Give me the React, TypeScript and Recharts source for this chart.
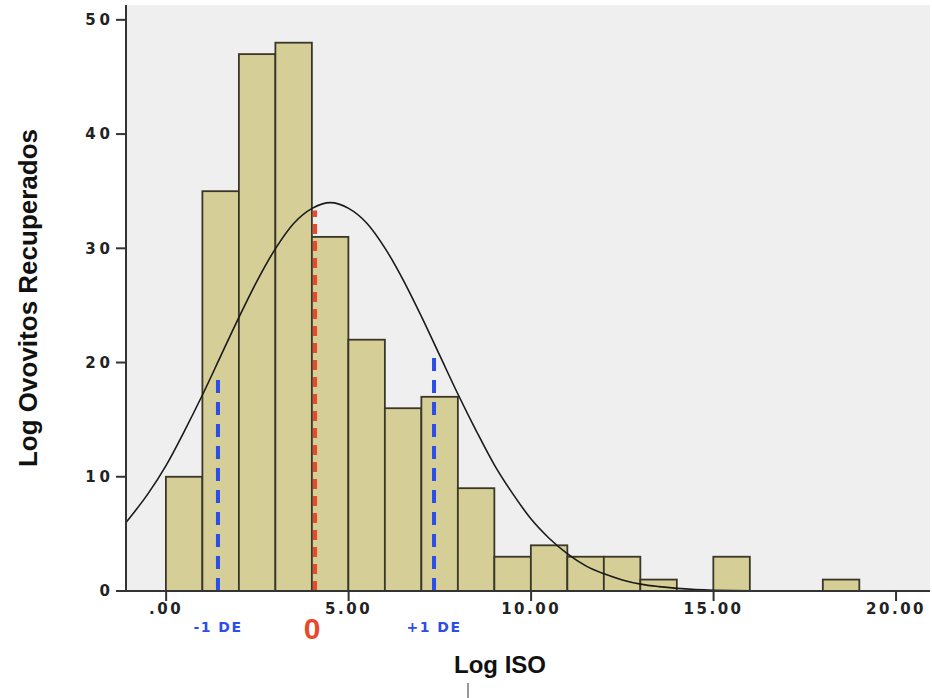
import React from "react";
import {
  ComposedChart,
  Bar,
  Line,
  XAxis,
  YAxis,
  CartesianGrid,
  ReferenceLine,
  ReferenceDot,
} from "recharts";

// histogram bins (width 1.0), value = bin centre
const binCenters = [0.5, 1.5, 2.5, 3.5, 4.5, 5.5, 6.5, 7.5, 8.5, 9.5, 10.5, 11.5, 12.5, 13.5, 14.5, 15.5, 16.5, 17.5, 18.5];
const binCounts = [10, 35, 47, 48, 31, 22, 16, 17, 9, 3, 4, 3, 3, 1, 0, 3, 0, 0, 1];

// normal curve
const curveX = [-1.1, -0.5, 0, 0.5, 1, 1.5, 2, 2.5, 3, 3.5, 4, 4.5, 5, 5.5, 6, 6.5, 7, 7.5, 8, 8.5, 9, 9.5, 10, 10.5, 11, 11.5, 12, 12.5, 13, 13.5, 14, 14.5, 15, 15.5, 16, 17, 18, 19, 20, 20.9];
const curveY = [6.0, 8.5, 11.0, 14.0, 17.2, 20.6, 24.0, 27.2, 30.0, 32.2, 33.5, 34.0, 33.5, 32.2, 30.0, 27.2, 24.0, 20.6, 17.2, 14.0, 11.0, 8.5, 6.3, 4.6, 3.25, 2.2, 1.5, 0.97, 0.6, 0.38, 0.23, 0.13, 0.07, 0.04, 0.02, 0, 0, 0, 0, 0];

const xTicks = [0, 5, 10, 15, 20];
const yTicks = [0, 10, 20, 30, 40, 50];

// mean and +-1 SD markers
const markerX = [1.42, 4.08, 7.34];
const markerTop = [18.6, 33.3, 21.1];
const markerText = ["-1 DE", "0", "+1 DE"];
const markerColor = ["#2b4ee6", "#e8482c", "#2b4ee6"];

const bars = binCenters.map((x, i) => ({ x, count: binCounts[i] }));
const curve = curveX.map((x, i) => ({ x, y: curveY[i] }));

const W = 932;
const H = 698;
const M = { top: 5, right: 2, left: 0, bottom: 0 };
const Y_W = 126;
const X_DOMAIN: [number, number] = [-1.1, 20.93];
const BIN_WIDTH = 1;
// one bin in pixels on the x scale
const barPx = ((W - M.left - M.right - Y_W) / (X_DOMAIN[1] - X_DOMAIN[0])) * BIN_WIDTH;

const fmtX = (v: number) => (v === 0 ? ".00" : v.toFixed(2));

const tickFont = {
  fontFamily: "DejaVu Sans",
  fontWeight: 700,
  fontSize: 15,
  letterSpacing: 2.5,
  fill: "#222",
};

// histogram bar: full bin width around the centre the scale gives
const BinRect = (props: any) => {
  const { x, y, width, height } = props;
  if (!height || height <= 0) return null;
  const cx = x + width / 2;
  return (
    <rect
      x={cx - barPx / 2}
      y={y}
      width={barPx}
      height={height}
      fill="#d5ce96"
      stroke="#3a3628"
      strokeWidth={1.8}
    />
  );
};

const App = () => {
  return (
    <div style={{ position: "absolute", left: 0, top: 0, background: "#fff" }}>
      <ComposedChart
        width={W}
        height={H}
        data={bars}
        barCategoryGap="0%"
        barGap={0}
        margin={M}
      >
        <CartesianGrid fill="#efefef" horizontal={false} vertical={false} />
        <XAxis
          type="number"
          dataKey="x"
          domain={X_DOMAIN}
          ticks={xTicks}
          tickFormatter={fmtX}
          allowDataOverflow
          height={107}
          stroke="#333"
          strokeWidth={2}
          tickSize={10}
          tick={tickFont}
          label={({ viewBox }: any) => (
            <g>
              <text
                x={viewBox.x + 374}
                y={viewBox.y + 82}
                textAnchor="middle"
                fontFamily="Liberation Sans"
                fontWeight={700}
                fontSize={24}
                fill="#111"
              >
                Log ISO
              </text>
              <line
                x1={viewBox.x + 342}
                x2={viewBox.x + 342}
                y1={viewBox.y + 92}
                y2={viewBox.y + 107}
                stroke="#333"
                strokeWidth={1}
              />
            </g>
          )}
        />
        <XAxis
          xAxisId="curve"
          type="number"
          dataKey="x"
          domain={X_DOMAIN}
          allowDataOverflow
          hide
        />
        <YAxis
          type="number"
          domain={[0, 51.3]}
          ticks={yTicks}
          allowDataOverflow
          width={Y_W}
          stroke="#333"
          strokeWidth={2}
          tickSize={10}
          tick={{ ...tickFont, letterSpacing: 4 }}
          label={({ viewBox }: any) => {
            const cx = viewBox.x + 28;
            const cy = viewBox.y + viewBox.height / 2;
            return (
              <text
                x={cx}
                y={cy}
                transform={`rotate(-90 ${cx} ${cy})`}
                textAnchor="middle"
                dominantBaseline="central"
                fontFamily="Liberation Sans"
                fontWeight={700}
                fontSize={26}
                fill="#111"
              >
                Log Ovovitos Recuperados
              </text>
            );
          }}
        />
        <Bar
          dataKey="count"
          shape={BinRect}
          fill="#d5ce96"
          stroke="#3a3628"
          isAnimationActive={false}
        />
        <Line
          xAxisId="curve"
          data={curve}
          dataKey="y"
          type="monotone"
          stroke="#1a1a1a"
          strokeWidth={1.6}
          dot={false}
          isAnimationActive={false}
        />
        {markerX.map((x, i) => (
          <ReferenceLine
            key={`ml-${i}`}
            segment={[
              { x, y: 0 },
              { x, y: markerTop[i] },
            ]}
            stroke={markerColor[i]}
            strokeWidth={4}
            strokeDasharray={i === 1 ? "10 7" : "13 9"}
          />
        ))}
        {markerX.map((x, i) => (
          <ReferenceDot
            key={`md-${i}`}
            x={x}
            y={0}
            r={0}
            fill="none"
            stroke="none"
            label={({ viewBox }: any) => {
              const cx = viewBox.x + viewBox.width / 2;
              const cy = viewBox.y + viewBox.height / 2;
              return i === 1 ? (
                <text
                  x={cx - 3}
                  y={cy + 37}
                  textAnchor="middle"
                  dominantBaseline="central"
                  fontFamily="Liberation Sans"
                  fontWeight={700}
                  fontSize={30}
                  fill={markerColor[i]}
                >
                  {markerText[i]}
                </text>
              ) : (
                <text
                  x={cx}
                  y={cy + 36}
                  textAnchor="middle"
                  dominantBaseline="central"
                  fontFamily="DejaVu Sans"
                  fontWeight={700}
                  fontSize={14}
                  letterSpacing={1.5}
                  fill={markerColor[i]}
                >
                  {markerText[i]}
                </text>
              );
            }}
          />
        ))}
      </ComposedChart>
    </div>
  );
};

export default App;
